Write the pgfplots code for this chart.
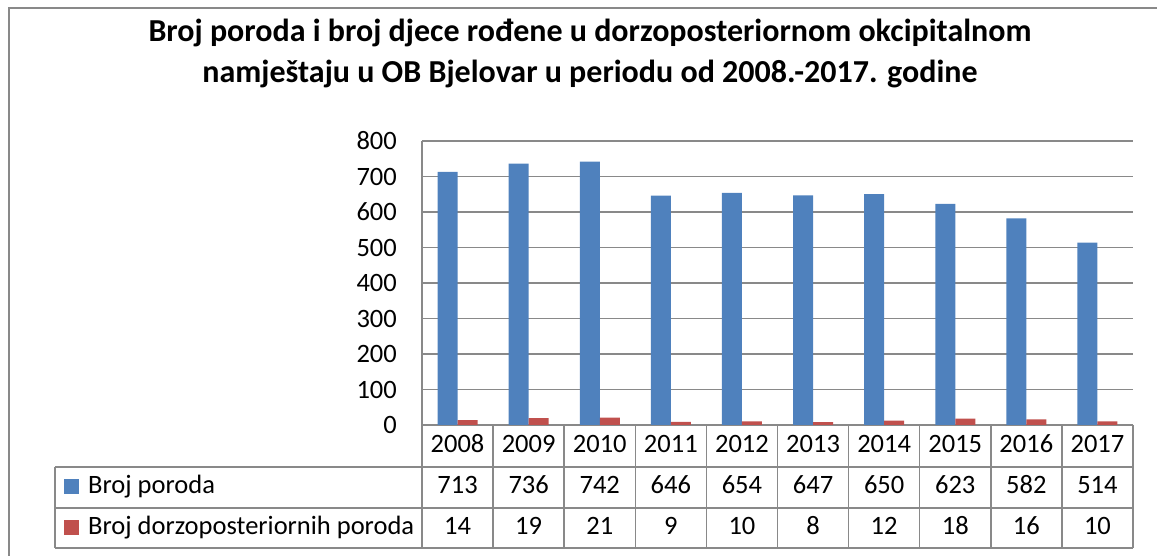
\documentclass[border=0pt]{standalone}
\usepackage{fontspec}
\setmainfont{Carlito}
\usepackage{pgfplots}
\pgfplotsset{compat=1.18}
\definecolor{bblue}{HTML}{4F81BD}
\definecolor{bred}{HTML}{C0504D}
\definecolor{gline}{HTML}{898989}
\begin{document}
\begin{tikzpicture}[x=1pt,y=1pt]
\path[use as bounding box] (0,0) rectangle (1157,556);
\draw[gline, line width=1.5pt] (9,0) -- (9,548) -- (1157,548);
\node[font=\fontsize{32}{37}\selectfont\bfseries, anchor=base] at (590,514) {Broj poroda i broj djece rođene u dorzoposteriornom okcipitalnom};
\node[font=\fontsize{32}{37}\selectfont\bfseries, anchor=base] at (590,473) {namještaju u OB Bjelovar u periodu od 2008.-2017. godine};
\begin{axis}[
  at={(422pt,131pt)}, anchor=south west,
  width=711pt, height=284pt, scale only axis,
  xmin=-0.5, xmax=9.5, ymin=0, ymax=800,
  enlargelimits=false,
  ytick={0,100,...,800},
  xtick={0,...,9},
  xticklabels={2008,2009,2010,2011,2012,2013,2014,2015,2016,2017},
  ybar=0pt, bar width=20pt,
  axis lines*=left,
  axis line style={gline, line width=1.5pt},
  ymajorgrids, grid style={gline, line width=1.5pt},
  major tick length=0pt,
  tick label style={font=\fontsize{26.5}{31}\selectfont},
  /pgf/number format/assume math mode=true,
  yticklabel style={inner sep=0pt, xshift=-25pt},
  xticklabel style={inner sep=0pt, anchor=base, yshift=-28pt},
]
\addplot[fill=bblue, draw=none] coordinates {(0,713) (1,736) (2,742) (3,646) (4,654) (5,647) (6,650) (7,623) (8,582) (9,514)};
\addplot[fill=bred, draw=none] coordinates {(0,14) (1,19) (2,21) (3,9) (4,10) (5,8) (6,12) (7,18) (8,16) (9,10)};
\end{axis}
\begin{scope}[gline, line width=1.5pt]
\foreach \k in {0,...,10} \draw (422+\k*71.1,131) -- (422+\k*71.1,8);
\draw (55,89) -- (1133,89);
\draw (55,48) -- (1133,48);
\draw (55,8) -- (1133,8);
\draw (55,89) -- (55,8);
\end{scope}
\fill[bblue] (64,62) rectangle (79,77);
\fill[bred] (64,21) rectangle (79,36);
\node[font=\fontsize{26.5}{31}\selectfont, anchor=base west, inner sep=0pt] at (88,62) {Broj poroda};
\node[font=\fontsize{26.5}{31}\selectfont, anchor=base west, inner sep=0pt] at (88,21) {Broj dorzoposteriornih poroda};
\foreach \v [count=\i from 0] in {713,736,742,646,654,647,650,623,582,514}
  \node[font=\fontsize{26.5}{31}\selectfont, anchor=base, inner sep=0pt] at (422+\i*71.1+35.55,62) {\v};
\foreach \v [count=\i from 0] in {14,19,21,9,10,8,12,18,16,10}
  \node[font=\fontsize{26.5}{31}\selectfont, anchor=base, inner sep=0pt] at (422+\i*71.1+35.55,21) {\v};
\end{tikzpicture}
\end{document}
